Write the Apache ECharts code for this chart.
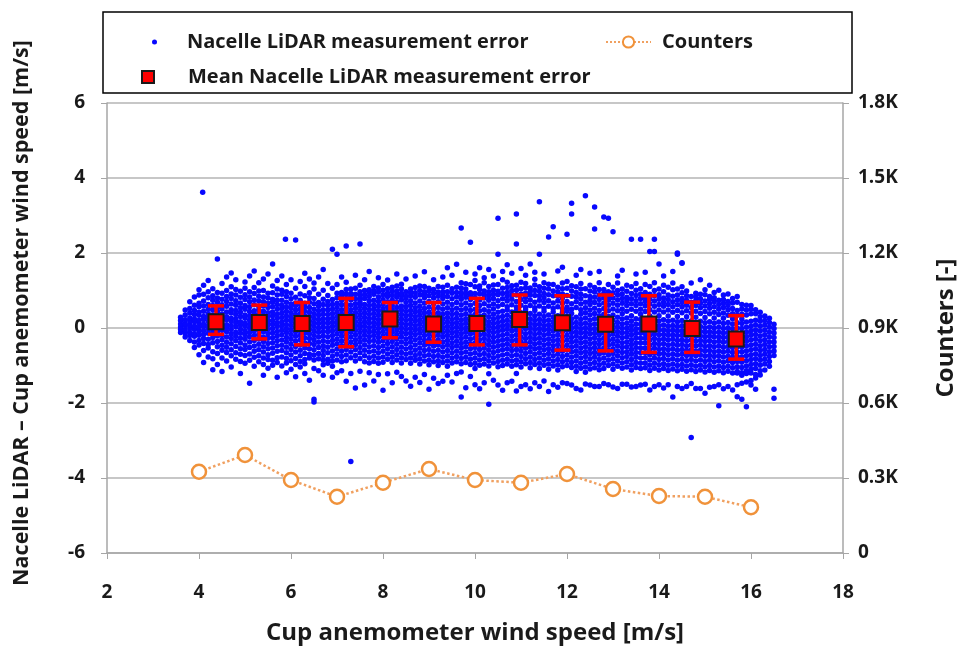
<!DOCTYPE html>
<html>
<head>
<meta charset="utf-8">
<title>Nacelle LiDAR measurement error</title>
<script src="https://cdn.jsdelivr.net/npm/echarts@6/dist/echarts.min.js"></script>
<style>
  html, body { margin: 0; padding: 0; background: #fff; }
  #chart { width: 966px; height: 650px; }
</style>
</head>
<body>
<div id="chart"></div>
<script>
// scatter cloud, read column by column: [wind speed, [errors...]]
const cloudCols = [
  [3.6, [-0.12,-0.04,0.03,0.11,0.2,0.29]],
  [3.7, [-0.24,-0.13,-0.05,0.06,0.12,0.22,0.35,0.48]],
  [3.8, [-0.33,-0.2,-0.11,0.0,0.08,0.19,0.27,0.4,0.52,0.7]],
  [3.9, [-0.52,-0.37,-0.22,-0.15,-0.03,0.05,0.17,0.24,0.36,0.47,0.61,0.83]],
  [4.0, [-0.71,-0.45,-0.33,-0.19,-0.08,0.02,0.13,0.21,0.34,0.42,0.57,0.66,0.88,1.02]],
  [4.08, [3.62]],
  [4.1, [-0.92,-0.6,-0.41,-0.28,-0.17,-0.07,0.04,0.1,0.23,0.31,0.45,0.59,0.72,0.9,1.14]],
  [4.2, [-0.77,-0.53,-0.44,-0.3,-0.14,-0.02,0.07,0.18,0.29,0.38,0.5,0.63,0.81,0.97,1.27]],
  [4.3, [-1.11,-0.82,-0.63,-0.39,-0.25,-0.12,-0.05,0.06,0.15,0.27,0.35,0.48,0.6,0.74,0.86,1.05]],
  [4.4, [-0.97,-0.68,-0.5,-0.36,-0.21,-0.09,0.01,0.12,0.2,0.33,0.44,0.55,0.69,0.8,0.95,1.84]],
  [4.5, [-1.16,-0.8,-0.59,-0.46,-0.31,-0.19,-0.06,0.04,0.16,0.25,0.37,0.51,0.62,0.77,0.93,1.19]],
  [4.6, [-0.88,-0.65,-0.51,-0.38,-0.24,-0.1,0.0,0.09,0.22,0.3,0.43,0.58,0.71,0.84,1.0,1.36]],
  [4.7, [-1.04,-0.74,-0.58,-0.42,-0.28,-0.16,-0.04,0.07,0.19,0.26,0.4,0.49,0.64,0.79,0.91,1.1,1.47]],
  [4.8, [-0.83,-0.66,-0.49,-0.34,-0.22,-0.11,0.03,0.14,0.24,0.36,0.47,0.61,0.73,0.88,1.03,1.29]],
  [4.9, [-1.21,-0.89,-0.7,-0.55,-0.4,-0.27,-0.14,-0.03,0.08,0.17,0.31,0.42,0.54,0.67,0.82,0.98]],
  [5.0, [-0.94,-0.73,-0.57,-0.45,-0.3,-0.18,-0.07,0.05,0.13,0.26,0.35,0.5,0.6,0.76,0.89,1.06,1.23]],
  [5.1, [-1.47,-0.86,-0.69,-0.52,-0.37,-0.23,-0.12,0.0,0.1,0.21,0.32,0.44,0.57,0.7,0.83,0.97,1.39]],
  [5.2, [-1.02,-0.78,-0.62,-0.48,-0.33,-0.2,-0.08,0.03,0.15,0.27,0.38,0.46,0.62,0.75,0.92,1.08,1.52]],
  [5.3, [-0.9,-0.74,-0.58,-0.43,-0.29,-0.17,-0.05,0.06,0.18,0.24,0.36,0.49,0.58,0.72,0.85,0.99,1.21]],
  [5.4, [-1.26,-0.97,-0.8,-0.64,-0.5,-0.36,-0.24,-0.1,0.01,0.11,0.22,0.34,0.45,0.59,0.7,0.83,1.0,1.31]],
  [5.5, [-1.07,-0.84,-0.71,-0.55,-0.41,-0.27,-0.15,-0.04,0.08,0.19,0.3,0.41,0.55,0.66,0.8,0.93,1.44]],
  [5.6, [-0.99,-0.86,-0.67,-0.53,-0.39,-0.26,-0.13,-0.01,0.1,0.2,0.33,0.43,0.57,0.69,0.77,0.94,1.12,1.71]],
  [5.7, [-1.31,-0.92,-0.79,-0.62,-0.47,-0.34,-0.21,-0.09,0.04,0.14,0.26,0.37,0.5,0.63,0.74,0.88,1.04,1.27]],
  [5.8, [-1.01,-0.77,-0.6,-0.46,-0.32,-0.18,-0.06,0.06,0.16,0.28,0.4,0.52,0.61,0.74,0.9,1.01,1.39]],
  [5.88, [2.37]],
  [5.9, [-1.19,-0.93,-0.81,-0.66,-0.51,-0.37,-0.25,-0.12,-0.02,0.09,0.21,0.32,0.44,0.56,0.69,0.84,0.97,1.16]],
  [6.0, [-1.1,-0.87,-0.72,-0.57,-0.43,-0.3,-0.17,-0.05,0.07,0.18,0.29,0.41,0.53,0.64,0.78,0.93,1.29]],
  [6.1, [-1.3,-0.97,-0.81,-0.64,-0.49,-0.35,-0.22,-0.1,0.02,0.13,0.24,0.36,0.48,0.6,0.67,0.82,1.06,2.35]],
  [6.2, [-1.04,-0.89,-0.74,-0.59,-0.45,-0.31,-0.19,-0.07,0.05,0.16,0.27,0.39,0.51,0.63,0.74,0.91,1.24]],
  [6.3, [-1.21,-0.95,-0.84,-0.68,-0.53,-0.39,-0.26,-0.13,-0.01,0.1,0.22,0.33,0.45,0.57,0.66,0.86,1.11,1.46]],
  [6.4, [-1.39,-0.8,-0.7,-0.55,-0.41,-0.28,-0.15,-0.03,0.08,0.19,0.31,0.42,0.55,0.69,0.81,0.94,1.31]],
  [6.5, [-1.97,-1.9,-1.08,-0.85,-0.72,-0.58,-0.44,-0.32,-0.2,-0.08,0.04,0.15,0.26,0.38,0.5,0.65,0.79,1.04,1.2]],
  [6.6, [-1.14,-0.82,-0.68,-0.52,-0.38,-0.24,-0.11,0.0,0.12,0.23,0.35,0.46,0.58,0.68,0.9,1.36]],
  [6.7, [-1.26,-0.98,-0.86,-0.73,-0.6,-0.47,-0.34,-0.21,-0.09,0.03,0.14,0.25,0.37,0.49,0.63,0.77,1.01,1.56]],
  [6.8, [-0.94,-0.83,-0.66,-0.51,-0.37,-0.23,-0.1,0.01,0.13,0.24,0.36,0.48,0.6,0.71,0.87,1.19]],
  [6.9, [-1.31,-1.02,-0.88,-0.75,-0.61,-0.46,-0.33,-0.2,-0.08,0.04,0.15,0.26,0.38,0.5,0.63,0.76,1.06,2.1]],
  [7.0, [-1.19,-0.85,-0.7,-0.56,-0.42,-0.29,-0.16,-0.04,0.08,0.19,0.31,0.43,0.55,0.66,0.81,0.93,1.16,1.97]],
  [7.1, [-1.14,-0.9,-0.76,-0.62,-0.48,-0.35,-0.22,-0.1,0.02,0.13,0.25,0.37,0.49,0.62,0.74,0.86,0.95,1.36]],
  [7.2, [-1.42,-0.87,-0.72,-0.57,-0.43,-0.3,-0.17,-0.05,0.07,0.18,0.3,0.42,0.54,0.64,0.79,0.91,1.03,1.22,2.19]],
  [7.3, [-3.56,-1.21,-0.79,-0.64,-0.5,-0.37,-0.24,-0.11,0.01,0.12,0.24,0.36,0.48,0.61,0.75,0.85,0.92,1.04]],
  [7.4, [-1.6,-0.88,-0.73,-0.58,-0.44,-0.31,-0.18,-0.06,0.06,0.17,0.29,0.41,0.53,0.65,0.78,0.9,1.06,1.41]],
  [7.5, [-1.15,-0.81,-0.66,-0.52,-0.38,-0.25,-0.12,0.0,0.11,0.23,0.35,0.47,0.59,0.69,0.76,0.86,0.97,1.14,2.24]],
  [7.6, [-1.52,-0.9,-0.74,-0.59,-0.45,-0.32,-0.19,-0.07,0.05,0.16,0.28,0.4,0.52,0.63,0.79,0.89,1.0,1.29]],
  [7.7, [-1.19,-0.93,-0.79,-0.64,-0.5,-0.36,-0.23,-0.11,0.01,0.13,0.24,0.36,0.48,0.6,0.72,0.84,0.95,1.02,1.51]],
  [7.8, [-1.41,-0.89,-0.75,-0.61,-0.47,-0.33,-0.2,-0.08,0.04,0.15,0.27,0.39,0.51,0.62,0.74,0.9,0.99,1.11]],
  [7.9, [-1.24,-0.94,-0.8,-0.66,-0.52,-0.38,-0.25,-0.13,-0.01,0.11,0.22,0.34,0.46,0.58,0.71,0.83,0.96,1.07,1.34]],
  [8.0, [-1.66,-0.91,-0.77,-0.62,-0.48,-0.34,-0.21,-0.09,0.03,0.15,0.27,0.39,0.51,0.63,0.76,0.89,1.01,1.16]],
  [8.1, [-1.22,-0.83,-0.69,-0.55,-0.41,-0.28,-0.15,-0.03,0.09,0.21,0.33,0.45,0.56,0.7,0.84,0.93,1.05,1.28]],
  [8.2, [-1.46,-0.92,-0.78,-0.64,-0.5,-0.36,-0.23,-0.11,0.01,0.13,0.25,0.37,0.49,0.6,0.74,0.87,0.98,1.09]],
  [8.3, [-1.18,-0.85,-0.71,-0.57,-0.43,-0.3,-0.17,-0.05,0.07,0.19,0.31,0.43,0.55,0.69,0.82,0.91,0.99,1.12,1.44]],
  [8.4, [-1.29,-0.93,-0.79,-0.65,-0.51,-0.37,-0.24,-0.12,0.0,0.12,0.24,0.36,0.48,0.59,0.75,0.86,0.92,1.04,1.17]],
  [8.5, [-1.41,-0.84,-0.7,-0.56,-0.42,-0.29,-0.16,-0.04,0.08,0.2,0.32,0.44,0.56,0.68,0.8,0.85,0.97,1.31]],
  [8.6, [-1.55,-0.94,-0.8,-0.66,-0.52,-0.38,-0.25,-0.13,-0.01,0.11,0.23,0.35,0.47,0.6,0.73,0.86,0.95,1.04]],
  [8.7, [-1.31,-0.86,-0.73,-0.59,-0.45,-0.31,-0.18,-0.06,0.06,0.18,0.3,0.42,0.54,0.67,0.82,0.94,1.08,1.39]],
  [8.8, [-1.45,-0.96,-0.82,-0.68,-0.54,-0.4,-0.27,-0.14,-0.02,0.1,0.22,0.34,0.46,0.58,0.72,0.88,1.0,1.12]],
  [8.9, [-1.24,-0.88,-0.74,-0.6,-0.46,-0.33,-0.2,-0.08,0.04,0.16,0.28,0.4,0.52,0.66,0.81,0.9,0.97,1.11,1.5]],
  [9.0, [-1.63,-0.98,-0.85,-0.71,-0.57,-0.43,-0.3,-0.17,-0.05,0.07,0.19,0.31,0.43,0.56,0.71,0.86,0.98,1.06]],
  [9.1, [-1.34,-0.9,-0.76,-0.62,-0.48,-0.35,-0.22,-0.1,0.02,0.14,0.26,0.38,0.51,0.65,0.8,0.92,1.03,1.29]],
  [9.2, [-1.48,-1.0,-0.87,-0.73,-0.59,-0.45,-0.32,-0.19,-0.07,0.05,0.17,0.29,0.41,0.55,0.7,0.85,0.96,1.11]],
  [9.3, [-1.42,-0.92,-0.78,-0.64,-0.5,-0.37,-0.24,-0.12,0.0,0.12,0.24,0.37,0.5,0.64,0.79,0.89,0.96,1.09,1.36]],
  [9.4, [-1.26,-1.02,-0.88,-0.74,-0.6,-0.46,-0.33,-0.2,-0.08,0.04,0.16,0.28,0.4,0.54,0.69,0.84,0.97,1.14,1.61]],
  [9.5, [-1.44,-0.93,-0.8,-0.66,-0.52,-0.39,-0.26,-0.13,-0.01,0.11,0.23,0.36,0.49,0.63,0.78,0.93,1.05,1.41]],
  [9.6, [-1.21,-0.9,-0.76,-0.62,-0.48,-0.35,-0.22,-0.1,0.02,0.14,0.26,0.39,0.53,0.68,0.83,0.95,1.09,1.7]],
  [9.7, [-1.84,-1.17,-0.95,-0.81,-0.67,-0.54,-0.41,-0.28,-0.15,-0.03,0.09,0.21,0.34,0.48,0.62,0.77,0.88,0.95,1.07,1.21,2.67]],
  [9.8, [-1.59,-0.92,-0.78,-0.64,-0.5,-0.37,-0.24,-0.11,0.01,0.13,0.25,0.38,0.52,0.67,0.82,0.93,1.04,1.18,1.49]],
  [9.9, [-1.29,-0.97,-0.83,-0.69,-0.55,-0.42,-0.29,-0.16,-0.04,0.08,0.2,0.33,0.47,0.61,0.76,0.87,0.94,1.16,2.29]],
  [10.0, [-1.51,-1.08,-0.94,-0.8,-0.66,-0.52,-0.39,-0.26,-0.13,-0.01,0.11,0.23,0.36,0.5,0.66,0.81,0.92,1.1,1.27,1.44]],
  [10.1, [-1.62,-0.99,-0.85,-0.71,-0.57,-0.44,-0.31,-0.18,-0.05,0.07,0.19,0.32,0.46,0.6,0.75,0.91,1.03,1.12,1.61]],
  [10.2, [-1.46,-0.96,-0.82,-0.68,-0.54,-0.41,-0.28,-0.15,-0.02,0.1,0.22,0.35,0.49,0.65,0.8,0.9,0.99,1.21,1.34]],
  [10.3, [-2.03,-1.22,-1.01,-0.87,-0.73,-0.59,-0.46,-0.33,-0.2,-0.07,0.05,0.17,0.3,0.44,0.59,0.74,0.86,0.97,1.11,1.56]],
  [10.4, [-1.39,-0.93,-0.79,-0.65,-0.51,-0.38,-0.25,-0.12,0.0,0.12,0.24,0.37,0.51,0.64,0.79,0.9,1.01,1.15,1.39]],
  [10.5, [-1.52,-1.03,-0.89,-0.75,-0.61,-0.48,-0.35,-0.22,-0.09,0.03,0.15,0.28,0.42,0.58,0.73,0.89,0.98,1.16,1.97,2.93]],
  [10.6, [-1.66,-1.0,-0.86,-0.72,-0.58,-0.45,-0.32,-0.19,-0.06,0.06,0.18,0.31,0.45,0.63,0.78,0.92,1.06,1.29,1.51]],
  [10.7, [-1.46,-0.96,-0.83,-0.69,-0.55,-0.42,-0.29,-0.16,-0.03,0.09,0.21,0.34,0.48,0.57,0.72,0.84,0.95,1.08,1.22,1.69]],
  [10.8, [-1.42,-1.02,-0.88,-0.74,-0.6,-0.47,-0.34,-0.21,-0.08,0.04,0.16,0.29,0.43,0.62,0.77,0.89,1.0,1.13,1.46]],
  [10.9, [-1.68,-1.21,-0.98,-0.85,-0.71,-0.57,-0.44,-0.31,-0.18,-0.05,0.07,0.19,0.32,0.46,0.56,0.71,0.88,1.01,1.14,2.24,3.04]],
  [11.0, [-1.56,-1.04,-0.9,-0.76,-0.62,-0.49,-0.36,-0.23,-0.1,0.02,0.14,0.27,0.41,0.61,0.76,0.91,1.05,1.22,1.59]],
  [11.1, [-1.51,-0.95,-0.82,-0.68,-0.54,-0.41,-0.28,-0.15,-0.02,0.1,0.22,0.35,0.49,0.55,0.7,0.82,0.93,1.07,1.19,1.41]],
  [11.2, [-1.62,-1.06,-0.92,-0.78,-0.64,-0.51,-0.38,-0.25,-0.12,0.0,0.12,0.25,0.39,0.6,0.75,0.88,0.97,1.07,1.71]],
  [11.3, [-1.46,-0.97,-0.84,-0.7,-0.56,-0.43,-0.3,-0.17,-0.04,0.08,0.2,0.33,0.47,0.54,0.69,0.87,1.0,1.15,1.3,1.49]],
  [11.4, [-1.56,-1.08,-0.94,-0.8,-0.66,-0.53,-0.4,-0.27,-0.14,-0.02,0.1,0.23,0.37,0.59,0.74,0.86,0.98,1.1,1.97,3.37]],
  [11.5, [-1.41,-0.99,-0.86,-0.72,-0.58,-0.45,-0.32,-0.19,-0.06,0.06,0.18,0.31,0.45,0.53,0.68,0.81,0.92,1.06,1.21,1.44]],
  [11.6, [-1.69,-1.1,-0.96,-0.82,-0.68,-0.55,-0.42,-0.29,-0.16,-0.04,0.08,0.21,0.35,0.58,0.73,0.89,1.04,1.17,2.43]],
  [11.7, [-1.51,-1.01,-0.88,-0.74,-0.6,-0.47,-0.34,-0.21,-0.08,0.04,0.16,0.29,0.43,0.52,0.67,0.86,0.99,1.16,2.7]],
  [11.8, [-1.58,-1.12,-0.98,-0.84,-0.7,-0.57,-0.44,-0.31,-0.18,-0.06,0.06,0.19,0.33,0.57,0.72,0.85,0.96,1.09,1.52]],
  [11.9, [-1.46,-1.03,-0.9,-0.76,-0.62,-0.49,-0.36,-0.23,-0.1,0.02,0.14,0.27,0.41,0.51,0.66,0.8,0.91,1.05,1.2,1.62]],
  [12.0, [-1.48,-1.0,-0.86,-0.72,-0.58,-0.45,-0.32,-0.19,-0.06,0.06,0.18,0.31,0.45,0.56,0.71,0.87,1.06,1.24,2.5]],
  [12.1, [-1.52,-1.05,-0.92,-0.78,-0.64,-0.51,-0.38,-0.25,-0.12,0.0,0.12,0.25,0.39,0.5,0.65,0.85,0.99,1.13,3.04,3.33]],
  [12.2, [-1.61,-1.16,-1.02,-0.88,-0.74,-0.61,-0.48,-0.35,-0.22,-0.1,0.02,0.15,0.29,0.55,0.7,0.83,0.95,1.1,1.41]],
  [12.3, [-1.65,-1.07,-0.94,-0.8,-0.66,-0.53,-0.4,-0.27,-0.14,-0.02,0.1,0.23,0.37,0.49,0.64,0.78,0.9,1.04,1.19,1.56]],
  [12.4, [-1.49,-1.18,-1.04,-0.9,-0.76,-0.63,-0.5,-0.37,-0.24,-0.12,0.0,0.13,0.27,0.41,0.54,0.69,0.86,1.05,3.53]],
  [12.5, [-1.52,-1.09,-0.96,-0.82,-0.68,-0.55,-0.42,-0.29,-0.16,-0.04,0.08,0.21,0.35,0.48,0.63,0.74,0.84,0.99,1.14,1.46]],
  [12.6, [-1.56,-1.06,-0.92,-0.78,-0.65,-0.52,-0.39,-0.26,-0.14,-0.02,0.11,0.25,0.39,0.53,0.68,0.82,0.96,1.08,2.64,3.23]],
  [12.7, [-1.56,-1.11,-0.98,-0.84,-0.7,-0.57,-0.44,-0.31,-0.18,-0.06,0.06,0.19,0.33,0.47,0.62,0.76,0.89,1.03,1.21,1.51]],
  [12.8, [-1.48,-1.08,-0.94,-0.8,-0.66,-0.53,-0.4,-0.27,-0.14,-0.02,0.1,0.23,0.37,0.52,0.67,0.81,0.92,1.03,2.96]],
  [12.9, [-1.51,-1.0,-0.86,-0.72,-0.59,-0.46,-0.33,-0.2,-0.08,0.04,0.17,0.31,0.46,0.61,0.74,0.83,0.97,1.16,2.93]],
  [13.0, [-1.57,-1.1,-0.96,-0.82,-0.68,-0.55,-0.42,-0.29,-0.16,-0.04,0.08,0.21,0.35,0.51,0.66,0.8,0.94,1.09,2.57]],
  [13.1, [-1.61,-1.02,-0.88,-0.74,-0.61,-0.48,-0.35,-0.22,-0.1,0.02,0.15,0.29,0.46,0.61,0.75,0.88,1.0,1.2,1.39]],
  [13.2, [-1.5,-1.07,-0.93,-0.79,-0.65,-0.52,-0.39,-0.26,-0.13,-0.01,0.11,0.24,0.38,0.51,0.66,0.79,0.91,1.04,1.54]],
  [13.3, [-1.5,-1.04,-0.9,-0.76,-0.63,-0.5,-0.37,-0.24,-0.12,0.0,0.13,0.27,0.45,0.6,0.72,0.82,0.98,1.14]],
  [13.4, [-1.57,-1.12,-0.98,-0.84,-0.7,-0.57,-0.44,-0.31,-0.18,-0.06,0.06,0.19,0.33,0.5,0.65,0.78,0.92,1.1,2.37]],
  [13.5, [-1.56,-1.05,-0.92,-0.78,-0.65,-0.52,-0.39,-0.26,-0.14,-0.02,0.11,0.25,0.45,0.6,0.73,0.87,1.01,1.19,1.44]],
  [13.6, [-1.52,-1.08,-0.94,-0.8,-0.66,-0.53,-0.4,-0.27,-0.14,-0.02,0.1,0.23,0.37,0.5,0.65,0.79,0.91,1.05,2.37]],
  [13.7, [-1.5,-1.06,-0.93,-0.79,-0.66,-0.53,-0.4,-0.27,-0.15,-0.03,0.1,0.24,0.44,0.59,0.71,0.81,0.95,1.16,1.49]],
  [13.8, [-1.65,-1.13,-0.99,-0.85,-0.71,-0.58,-0.45,-0.32,-0.19,-0.07,0.05,0.18,0.32,0.49,0.64,0.77,0.9,1.11,2.04]],
  [13.9, [-1.56,-1.07,-0.94,-0.8,-0.67,-0.54,-0.41,-0.28,-0.16,-0.04,0.09,0.23,0.43,0.58,0.72,0.86,1.0,1.21,2.04,2.37]],
  [14.0, [-1.51,-1.12,-0.98,-0.84,-0.7,-0.57,-0.44,-0.31,-0.18,-0.06,0.06,0.19,0.33,0.48,0.63,0.77,0.89,1.04,1.71]],
  [14.1, [-1.6,-1.08,-0.95,-0.81,-0.68,-0.55,-0.42,-0.29,-0.17,-0.05,0.08,0.22,0.43,0.58,0.69,0.8,0.97,1.14,1.39]],
  [14.2, [-1.51,-1.13,-0.99,-0.85,-0.71,-0.58,-0.45,-0.32,-0.19,-0.07,0.05,0.18,0.32,0.48,0.63,0.76,0.88,1.09]],
  [14.3, [-1.84,-1.09,-0.96,-0.82,-0.69,-0.56,-0.43,-0.3,-0.18,-0.06,0.07,0.21,0.42,0.57,0.7,0.85,1.02,1.2,1.51]],
  [14.4, [-1.56,-1.14,-1.0,-0.86,-0.72,-0.59,-0.46,-0.33,-0.2,-0.08,0.04,0.17,0.31,0.47,0.62,0.75,0.88,1.04,1.97,2.0]],
  [14.5, [-1.61,-1.1,-0.97,-0.83,-0.7,-0.57,-0.44,-0.31,-0.19,-0.07,0.06,0.2,0.41,0.56,0.68,0.79,0.94,1.1,1.73,1.74]],
  [14.6, [-1.56,-1.15,-1.01,-0.87,-0.73,-0.6,-0.47,-0.34,-0.21,-0.09,0.03,0.16,0.3,0.46,0.61,0.74,0.86,0.99]],
  [14.7, [-2.92,-1.48,-1.11,-0.98,-0.84,-0.71,-0.58,-0.45,-0.32,-0.2,-0.08,0.05,0.19,0.4,0.55,0.69,0.84,1.2]],
  [14.8, [-1.61,-1.16,-1.02,-0.88,-0.74,-0.61,-0.48,-0.35,-0.22,-0.1,0.02,0.15,0.29,0.45,0.6,0.73,0.83,0.93]],
  [14.9, [-1.61,-1.12,-0.99,-0.85,-0.72,-0.59,-0.46,-0.33,-0.21,-0.09,0.04,0.18,0.39,0.54,0.66,0.78,0.9,1.29]],
  [15.0, [-1.74,-1.17,-1.03,-0.89,-0.75,-0.62,-0.49,-0.36,-0.23,-0.11,0.01,0.14,0.28,0.44,0.59,0.72,0.89,1.02]],
  [15.1, [-1.58,-1.13,-1.0,-0.86,-0.73,-0.6,-0.47,-0.34,-0.22,-0.1,0.03,0.17,0.38,0.53,0.65,0.76,0.84,1.14]],
  [15.2, [-1.56,-1.18,-1.04,-0.9,-0.76,-0.63,-0.5,-0.37,-0.24,-0.12,0.0,0.13,0.27,0.42,0.57,0.7,0.81,0.95]],
  [15.3, [-2.07,-1.51,-1.14,-1.01,-0.87,-0.74,-0.61,-0.48,-0.35,-0.23,-0.11,0.02,0.16,0.36,0.5,0.63,0.74,1.01]],
  [15.4, [-1.62,-1.19,-1.05,-0.91,-0.77,-0.64,-0.51,-0.38,-0.25,-0.13,-0.01,0.12,0.26,0.4,0.55,0.66,0.76,0.88]],
  [15.5, [-1.56,-1.15,-1.02,-0.88,-0.75,-0.62,-0.49,-0.36,-0.24,-0.12,0.01,0.15,0.34,0.48,0.6,0.71,0.91]],
  [15.6, [-1.65,-1.2,-1.06,-0.92,-0.78,-0.65,-0.52,-0.39,-0.26,-0.14,-0.02,0.11,0.25,0.38,0.52,0.67,0.79]],
  [15.7, [-1.83,-1.51,-1.2,-1.16,-1.03,-0.89,-0.76,-0.63,-0.5,-0.37,-0.25,-0.13,0.0,0.14,0.34,0.47,0.69,0.84]],
  [15.8, [-1.9,-1.47,-1.26,-1.19,-1.05,-0.91,-0.77,-0.64,-0.51,-0.38,-0.25,-0.13,-0.01,0.12,0.24,0.37,0.51,0.63]],
  [15.9, [-2.1,-1.44,-1.21,-1.14,-1.01,-0.87,-0.74,-0.61,-0.48,-0.35,-0.23,-0.11,0.02,0.16,0.35,0.48,0.61]],
  [16.0, [-1.52,-1.4,-1.2,-1.1,-0.97,-0.84,-0.71,-0.58,-0.45,-0.32,-0.19,-0.07,0.05,0.18,0.38,0.5,0.6]],
  [16.1, [-1.63,-1.33,-1.24,-1.08,-0.95,-0.82,-0.69,-0.56,-0.43,-0.3,-0.17,-0.05,0.08,0.21,0.38,0.49]],
  [16.2, [-1.25,-1.14,-0.99,-0.86,-0.73,-0.6,-0.47,-0.34,-0.21,-0.08,0.05,0.18,0.3,0.42]],
  [16.3, [-1.12,-0.96,-0.83,-0.7,-0.57,-0.44,-0.31,-0.18,-0.05,0.08,0.2,0.32]],
  [16.4, [-1.02,-0.89,-0.76,-0.63,-0.5,-0.37,-0.24,-0.11,0.02,0.15,0.26]],
  [16.5, [-1.87,-1.63,-0.73,-0.61,-0.49,-0.37,-0.25,-0.13,-0.01,0.1]]
]

// binned means with error bars
const meanX = [4.37, 5.31, 6.24, 7.2, 8.15, 9.1, 10.04, 10.97, 11.9, 12.84, 13.78, 14.72, 15.68]
const meanY = [0.17, 0.15, 0.12, 0.15, 0.24, 0.11, 0.12, 0.23, 0.14, 0.1, 0.11, -0.01, -0.29]
const errTop = [0.59, 0.61, 0.68, 0.79, 0.68, 0.68, 0.79, 0.88, 0.86, 0.88, 0.86, 0.69, 0.33]
const errBottom = [-0.17, -0.29, -0.45, -0.5, -0.26, -0.38, -0.45, -0.45, -0.59, -0.61, -0.65, -0.65, -0.83]

// counters per bin (right axis)
const countX = [4, 5, 6, 7, 8, 9, 10, 11, 12, 13, 14, 15, 16]
const counts = [325, 392, 292, 225, 281, 336, 292, 281, 316, 256, 228, 225, 183]

const FONT = 'Open Sans'
const TEXT = '#1a1a1a'

const cloudData = []
cloudCols.forEach(([x, ys]) => ys.forEach((y) => cloudData.push([x, y])))

const chart = echarts.init(document.getElementById('chart'))

const labelStyle = { color: TEXT, fontSize: 19, fontWeight: 'bold', fontFamily: FONT }
const legendText = { color: TEXT, fontSize: 20, fontWeight: 'bold', fontFamily: FONT }

chart.setOption({
  animation: false,
  backgroundColor: '#fff',
  grid: { left: 107, right: 119, top: 103, bottom: 97 },
  graphic: [
    {
      type: 'rect',
      shape: { x: 103, y: 12, width: 749, height: 81 },
      style: { fill: '#fff', stroke: '#000', lineWidth: 1.5 },
      z: -1
    }
  ],
  legend: [
    {
      data: [{ name: 'Nacelle LiDAR measurement error', icon: 'circle' }],
      left: 147, top: 27, itemWidth: 5, itemHeight: 5,
      textStyle: Object.assign({ padding: [0, 0, 0, 25] }, legendText),
      selectedMode: false
    },
    {
      data: ['Counters'],
      left: 600, top: 27, itemWidth: 45, itemHeight: 14,
      textStyle: Object.assign({ padding: [0, 0, 0, 6] }, legendText),
      selectedMode: false
    },
    {
      data: [{ name: 'Mean Nacelle LiDAR measurement error', icon: 'rect' }],
      left: 136, top: 62, itemWidth: 12, itemHeight: 12,
      textStyle: Object.assign({ padding: [0, 0, 0, 29] }, legendText),
      selectedMode: false
    }
  ],
  xAxis: {
    type: 'value',
    min: 2, max: 18, interval: 2,
    name: 'Cup anemometer wind speed [m/s]',
    nameLocation: 'middle', nameGap: 68,
    nameTextStyle: { color: TEXT, fontSize: 24, fontWeight: 'bold', fontFamily: FONT },
    axisLine: { onZero: false, lineStyle: { color: '#a6a6a6', width: 1.5 } },
    axisTick: { show: true, inside: false, length: 6, lineStyle: { color: '#a6a6a6' } },
    axisLabel: Object.assign({ margin: 30 }, labelStyle),
    splitLine: { show: false }
  },
  yAxis: [
    {
      type: 'value',
      min: -6, max: 6, interval: 2,
      name: 'Nacelle LiDAR – Cup anemometer wind speed [m/s]',
      nameLocation: 'middle', nameGap: 74, nameRotate: 90,
      nameTextStyle: { color: TEXT, fontSize: 21.5, fontWeight: 'bold', fontFamily: FONT, padding: [0, 0, 0, 30] },
      axisLine: { show: true, lineStyle: { color: '#a6a6a6', width: 1.5 } },
      axisTick: { show: true, length: 6, lineStyle: { color: '#a6a6a6' } },
      axisLabel: Object.assign({ margin: 22 }, labelStyle),
      splitLine: { show: true, lineStyle: { color: '#b4b4b4', width: 1.5 } }
    },
    {
      type: 'value',
      position: 'right',
      min: 0, max: 1800, interval: 300,
      name: 'Counters [-]',
      nameLocation: 'middle', nameGap: 91, nameRotate: 90,
      nameTextStyle: { color: TEXT, fontSize: 24, fontWeight: 'bold', fontFamily: FONT },
      axisLine: { show: true, lineStyle: { color: '#a6a6a6', width: 1.5 } },
      axisTick: { show: true, length: 6, lineStyle: { color: '#a6a6a6' } },
      axisLabel: Object.assign({
        margin: 15,
        formatter: (v) => (v === 0 ? '0' : (v / 1000).toFixed(1) + 'K')
      }, labelStyle),
      splitLine: { show: false }
    }
  ],
  series: [
    {
      name: 'Nacelle LiDAR measurement error',
      type: 'scatter',
      data: cloudData,
      symbol: 'circle',
      symbolSize: 5.5,
      itemStyle: { color: '#0808ff', opacity: 1 },
      largeThreshold: 100000,
      progressive: 0,
      z: 2
    },
    {
      name: 'errorBars',
      type: 'custom',
      data: meanX.map((x, i) => [x, errBottom[i], errTop[i]]),
      renderItem: (params, api) => {
        const top = api.coord([api.value(0), api.value(2)])
        const bottom = api.coord([api.value(0), api.value(1)])
        const half = 8
        const style = { stroke: '#ff0000', lineWidth: 3.5 }
        return {
          type: 'group',
          children: [
            { type: 'line', shape: { x1: top[0], y1: top[1], x2: bottom[0], y2: bottom[1] }, style },
            { type: 'line', shape: { x1: top[0] - half, y1: top[1], x2: top[0] + half, y2: top[1] }, style },
            { type: 'line', shape: { x1: bottom[0] - half, y1: bottom[1], x2: bottom[0] + half, y2: bottom[1] }, style }
          ]
        }
      },
      z: 3
    },
    {
      name: 'Mean Nacelle LiDAR measurement error',
      type: 'scatter',
      data: meanX.map((x, i) => [x, meanY[i]]),
      symbol: 'rect',
      symbolSize: 15,
      itemStyle: { color: '#ff0000', borderColor: '#1a1a1a', borderWidth: 2, opacity: 1 },
      z: 4
    },
    {
      name: 'Counters',
      type: 'line',
      yAxisIndex: 1,
      data: countX.map((x, i) => [x, counts[i]]),
      symbol: 'circle',
      symbolSize: 14,
      lineStyle: { color: '#f0a060', width: 2.5, type: 'dotted' },
      itemStyle: { color: '#fff', borderColor: '#f0923a', borderWidth: 2.5 },
      z: 5
    }
  ]
})
</script>
</body>
</html>
